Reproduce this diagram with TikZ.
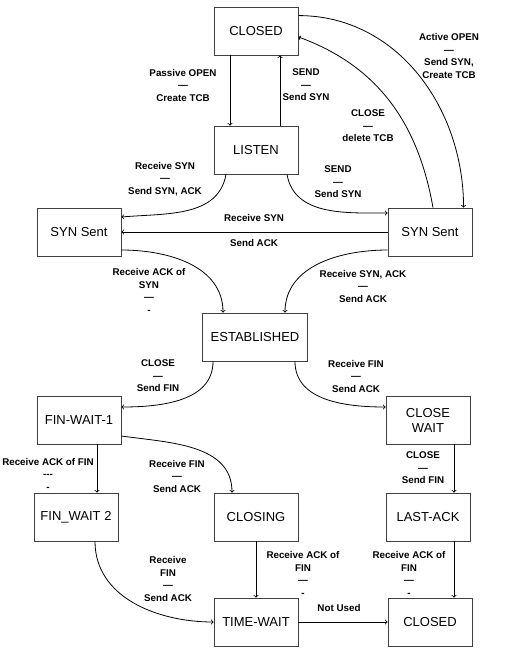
\documentclass[tikz,border=0pt]{standalone}
\usepackage{fontspec}
\setmainfont{Liberation Sans}
\usepackage{tikz}
\tikzstyle{state}=[draw=black!75,line width=0.75pt,minimum width=84,minimum height=48,font=\fontsize{13}{15}\selectfont,align=center]
\tikzstyle{lbl}=[font=\fontsize{9.8}{12.5}\selectfont\bfseries,align=center,inner sep=0pt]
\tikzstyle{trans}=[->,line width=0.8pt]

\begin{document}
\begin{tikzpicture}[x=1pt,y=-1pt]
		\useasboundingbox (0,0) rectangle (505,651);
		\node[state] (closed) at (256,31) {CLOSED};
		\node[state] (listen) at (256,150) {LISTEN};
		\node[state] (synsentl) at (79,232) {SYN Sent};
		\node[state] (synsentr) at (430,232) {SYN Sent};
		\node[state,minimum width=105] (estab) at (255,337) {ESTABLISHED};
		\node[state] (finwaita) at (79,420) {FIN-WAIT-1};
		\node[state] (closewait) at (428,420) {CLOSE\\WAIT};
		\node[state] (finwaitb) at (76,517) {FIN\_WAIT 2};
		\node[state] (closing) at (256,517) {CLOSING};
		\node[state] (lastack) at (428,517) {LAST-ACK};
		\node[state] (timewait) at (256,622) {TIME-WAIT};
		\node[state] (closedend) at (430,622) {CLOSED};

		\draw[trans] ([xshift=-26]closed.south) -- ([xshift=-26]listen.north);
		\draw[trans] ([xshift=24]listen.north) -- ([xshift=24]closed.south);
		\draw[trans] (closed.20) to[out=0,in=90] (synsentr.36);
		\draw[trans] (synsentr.83) to[out=100,in=-20] (closed.-8);
		\draw[trans] ([xshift=-30]listen.south) to[out=-100,in=5] ([yshift=15]synsentl.east);
		\draw[trans] ([xshift=31]listen.south) to[out=-80,in=180] ([yshift=19]synsentr.west);
		\draw[trans] (synsentr.west) -- (synsentl.east);
		\draw[trans] ([yshift=-18]synsentl.east) to[out=0,in=90] ([xshift=-32]estab.north);
		\draw[trans] ([yshift=-18]synsentr.west) to[out=180,in=90] ([xshift=30]estab.north);
		\draw[trans] ([xshift=-42]estab.south) to[out=-90,in=0] ([yshift=13]finwaita.east);
		\draw[trans] ([xshift=40]estab.south) to[out=-90,in=180] ([yshift=13]closewait.west);
		\draw[trans] ([xshift=18]finwaita.south) -- ([xshift=18]finwaita.south |- finwaitb.north);
		\draw[trans] ([yshift=-16]finwaita.east) to[out=-8,in=90] ([xshift=-24]closing.north);
		\draw[trans] ([xshift=26]closewait.south) -- ([xshift=26]closewait.south |- lastack.north);
		\draw[trans] ([xshift=19]finwaitb.south) to[out=-90,in=180] (timewait.west);
		\draw[trans] (closing.south) -- (timewait.north);
		\draw[trans] ([xshift=26]lastack.south) -- ([xshift=26]lastack.south |- closedend.north);
		\draw[trans] (timewait.east) -- (closedend.west);

		\node[lbl] (passive) at (183,85) {Passive OPEN\\—\\Create TCB};
		\node[lbl] (sendup) at (306,85) {SEND\\—\\Send SYN};
		\node[lbl] (active) at (449,56) {Active OPEN\\—\\Send SYN,\\Create TCB};
		\node[lbl] (closedel) at (368,126) {CLOSE\\—\\delete TCB};
		\node[lbl] (rcvsyn) at (165,179) {Receive SYN\\—\\Send SYN, ACK};
		\node[lbl] (sendsyn) at (338,182) {SEND\\—\\Send SYN};
		\node[lbl] (rcvsynb) at (254,218) {Receive SYN};
		\node[lbl] (sendack) at (254,243) {Send ACK};
		\node[lbl] (rcvacksyn) at (149,291) {Receive ACK of\\SYN\\—\\-};
		\node[lbl] (rcvsynack) at (363,286) {Receive SYN, ACK\\—\\Send ACK};
		\node[lbl] (closefin) at (158,376) {CLOSE\\—\\Send FIN};
		\node[lbl] (rcvfin) at (356,376) {Receive FIN\\—\\Send ACK};
		\node[lbl] (rcvackfin) at (48,474) {Receive ACK of FIN\\-{}-{}-\\-};
		\node[lbl] (rcvfinb) at (177,476) {Receive FIN\\—\\Send ACK};
		\node[lbl] (closefinb) at (423,468) {CLOSE\\—\\Send FIN};
		\node[lbl] (rcvfinc) at (168,579) {Receive\\FIN\\—\\Send ACK};
		\node[lbl] (rcvackfinb) at (303,574) {Receive ACK of\\FIN\\—\\-};
		\node[lbl] (rcvackfinc) at (409,574) {Receive ACK of\\FIN\\—\\-};
		\node[lbl] (notused) at (339,608) {Not Used};
\end{tikzpicture}
\end{document}
